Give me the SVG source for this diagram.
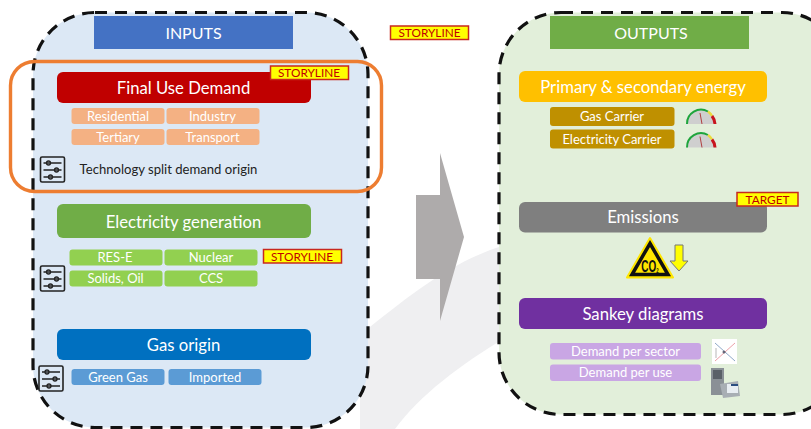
<svg xmlns="http://www.w3.org/2000/svg" width="811" height="429" viewBox="0 0 811 429">
<defs>
<style>
text{font-family:Lato,"Open Sans","Liberation Sans",sans-serif;text-anchor:middle}
.panel{stroke:#111;stroke-width:3.2;stroke-dasharray:12 8}
.w{fill:#fff}
.h{font-size:16px}
.m{font-size:16.7px}
.s{font-size:13px}
.tag{fill:#ff0;stroke:#c8281e;stroke-width:1.5}
.tagt{fill:#c00000;font-size:11.8px}
.sl{stroke:#222;stroke-width:1.3;fill:none}
</style>
<g id="sliders">
<rect x="1" y="1" width="24" height="25" rx="1.5" fill="none" stroke="#222" stroke-width="1.6"/>
<path class="sl" d="M4 7H22M4 14H22M4 21H22"/>
<circle class="sl" cx="9" cy="7" r="2"/><circle class="sl" cx="17" cy="14" r="2"/><circle class="sl" cx="11" cy="21" r="2"/>
</g>
<g id="gauge">
<path d="M2 17A14 14 0 0 1 30 17Z" fill="#cfcfcf"/>
<path d="M2 17A14 14 0 0 1 23 4.500" fill="none" stroke="#1ea53c" stroke-width="2"/>
<path d="M23 4.500A14 14 0 0 1 27 9" fill="none" stroke="#eadb3c" stroke-width="2.500"/>
<path d="M27 9A14 14 0 0 1 30 17" fill="none" stroke="#c8141e" stroke-width="3"/>
<path d="M15 6L17 17" stroke="#b04040" stroke-width="1"/>
</g>
</defs>
<rect width="811" height="429" fill="#fff"/>
<path d="M505 245C450 262 410 295 360 335V429H395C420 395 460 365 505 338Z" fill="#efeff1"/>
<g id="inputs-panel"><rect class="panel" x="33" y="12.500" width="335" height="415" rx="62" fill="#dce8f5"/></g>
<g id="outputs-panel"><rect class="panel" x="499" y="12.500" width="345" height="402" rx="62" fill="#e2efda"/></g>
<g id="inputs"><rect x="94" y="16" width="199" height="33" fill="#4472c4"/><text class="w h" x="193.500" y="39">INPUTS</text></g>
<g id="outputs"><rect x="550" y="16" width="199" height="33" fill="#70ad47"/><text class="w h" x="651" y="39">OUTPUTS</text></g>
<g id="final-use"><rect x="57" y="72" width="254" height="31" rx="6" fill="#c00000"/><text class="w m" x="183.500" y="94">Final Use Demand</text></g>
<g id="residential"><rect x="71.500" y="108" width="93" height="16" rx="3" fill="#f4b183"/><text class="w s" x="118" y="120.500">Residential</text></g>
<g id="industry"><rect x="166.500" y="108" width="93" height="16" rx="3" fill="#f4b183"/><text class="w s" x="212.500" y="120.500">Industry</text></g>
<g id="tertiary"><rect x="71.500" y="129" width="93" height="16" rx="3" fill="#f4b183"/><text class="w s" x="118" y="141.500">Tertiary</text></g>
<g id="transport"><rect x="166.500" y="129" width="93" height="16" rx="3" fill="#f4b183"/><text class="w s" x="212.500" y="141.500">Transport</text></g>
<g id="tech-split"><use href="#sliders" x="39.500" y="156"/><text x="168.500" y="174" style="font-size:13.100px" fill="#222">Technology split demand origin</text></g>
<g id="highlight"><rect x="10.500" y="61.500" width="371" height="130" rx="24" fill="none" stroke="#ed7d31" stroke-width="3.400"/></g>
<g id="tag-1"><rect class="tag" x="270.500" y="66" width="78" height="13.500"/><text class="tagt" x="309" y="77.200">STORYLINE</text></g>
<g id="tag-top"><rect class="tag" x="390.500" y="26" width="78" height="13.500"/><text class="tagt" x="429.500" y="37.200">STORYLINE</text></g>
<g id="elec"><rect x="57" y="204" width="254" height="34" rx="6" fill="#70ad47"/><text class="w m" x="183.500" y="228">Electricity generation</text></g>
<g id="res-e"><rect x="69.500" y="249.500" width="93" height="16" rx="3" fill="#92d050"/><text class="w s" x="115" y="262">RES-E</text></g>
<g id="nuclear"><rect x="164.500" y="249.500" width="93" height="16" rx="3" fill="#92d050"/><text class="w s" x="211" y="262">Nuclear</text></g>
<g id="solids"><rect x="69.500" y="270.500" width="93" height="16" rx="3" fill="#92d050"/><text class="w s" x="115.500" y="283">Solids, Oil</text></g>
<g id="ccs"><rect x="164.500" y="270.500" width="93" height="16" rx="3" fill="#92d050"/><text class="w s" x="211" y="283">CCS</text></g>
<g id="tag-2"><rect class="tag" x="263.500" y="249.500" width="78" height="13.500"/><text class="tagt" x="302" y="260.700">STORYLINE</text></g>
<use id="sliders-2" href="#sliders" x="39.500" y="265"/>
<g id="gas"><rect x="57" y="329" width="254" height="31" rx="6" fill="#0070c0"/><text class="w m" x="183.500" y="351">Gas origin</text></g>
<g id="green-gas"><rect x="71.500" y="369" width="93" height="16" rx="3" fill="#5b9bd5"/><text class="w s" x="118" y="381.500">Green Gas</text></g>
<g id="imported"><rect x="168.500" y="369" width="93" height="16" rx="3" fill="#5b9bd5"/><text class="w s" x="215" y="381.500">Imported</text></g>
<use id="sliders-3" href="#sliders" x="38" y="365"/>
<g id="arrow"><path d="M416 195H440V153L464 237L440 321V279H416Z" fill="#aeabab"/></g>
<g id="energy"><rect x="519" y="71" width="248" height="31" rx="6" fill="#ffc000"/><text class="w m" x="643" y="93">Primary &amp; secondary energy</text></g>
<g id="gas-carrier"><rect x="550" y="107" width="124.500" height="19" rx="3" fill="#bf9000"/><text class="w s" x="612" y="121">Gas Carrier</text></g>
<g id="elec-carrier"><rect x="550" y="129.500" width="124.500" height="19" rx="3" fill="#bf9000"/><text class="w s" x="612" y="143.500">Electricity Carrier</text></g>
<use id="gauge-1" href="#gauge" x="685" y="107"/>
<use id="gauge-2" href="#gauge" x="685" y="130.500"/>
<g id="emissions"><rect x="519" y="202" width="248" height="30.500" rx="6" fill="#7f7f7f"/><text class="w m" x="643" y="223">Emissions</text></g>
<g id="tag-target"><rect class="tag" x="737" y="192.500" width="61" height="13.500"/><text class="tagt" x="767.500" y="203.700">TARGET</text></g>
<g id="co2"><path d="M650 238L673 277.500H627Z" fill="#ffe600" stroke="#ffe600" stroke-width="2" stroke-linejoin="round"/><path d="M650 243.500L668 274.500H632Z" fill="none" stroke="#111" stroke-width="3.500"/><text transform="translate(650 271.500) scale(.62 1)" style="font-size:16px;font-weight:700;font-family:'Liberation Sans',sans-serif" fill="#111">CO<tspan font-size="7" dy="1">2</tspan></text><path d="M675 245H683V261H688L679 271L670 261H675Z" fill="#ff0" stroke="#777" stroke-width="1"/></g>
<g id="sankey"><rect x="519" y="298" width="248" height="31" rx="6" fill="#7030a0"/><text class="w m" x="643" y="320">Sankey diagrams</text></g>
<g id="per-sector"><rect x="550" y="343" width="151" height="16.500" rx="3" fill="#c9a6e4"/><text class="w s" x="625.500" y="355.500">Demand per sector</text></g>
<g id="per-use"><rect x="550" y="364.500" width="151" height="16.500" rx="3" fill="#c9a6e4"/><text class="w s" x="625.500" y="377">Demand per use</text></g>
<g id="chart-icon"><rect x="712" y="339" width="25" height="25" fill="#fff"/><path d="M715 343L735 361" stroke="#8fa8c8"/><path d="M715 361L735 343" stroke="#eda0a8"/><path d="M716 348V358" stroke="#999" stroke-width=".7"/><circle cx="724" cy="352" r="1.500" fill="#667"/></g>
<g id="unit-icon"><rect x="711" y="368" width="13" height="27" fill="#8a9096"/><rect x="713" y="370" width="9" height="9" fill="#5a6068"/><path d="M720 384L738 381L740 396L723 398Z" fill="#a8aeb4"/><rect x="727" y="384" width="11" height="9" fill="#e8edf2"/><rect x="731" y="384" width="7" height="2" fill="#2a4d80"/></g>
</svg>
